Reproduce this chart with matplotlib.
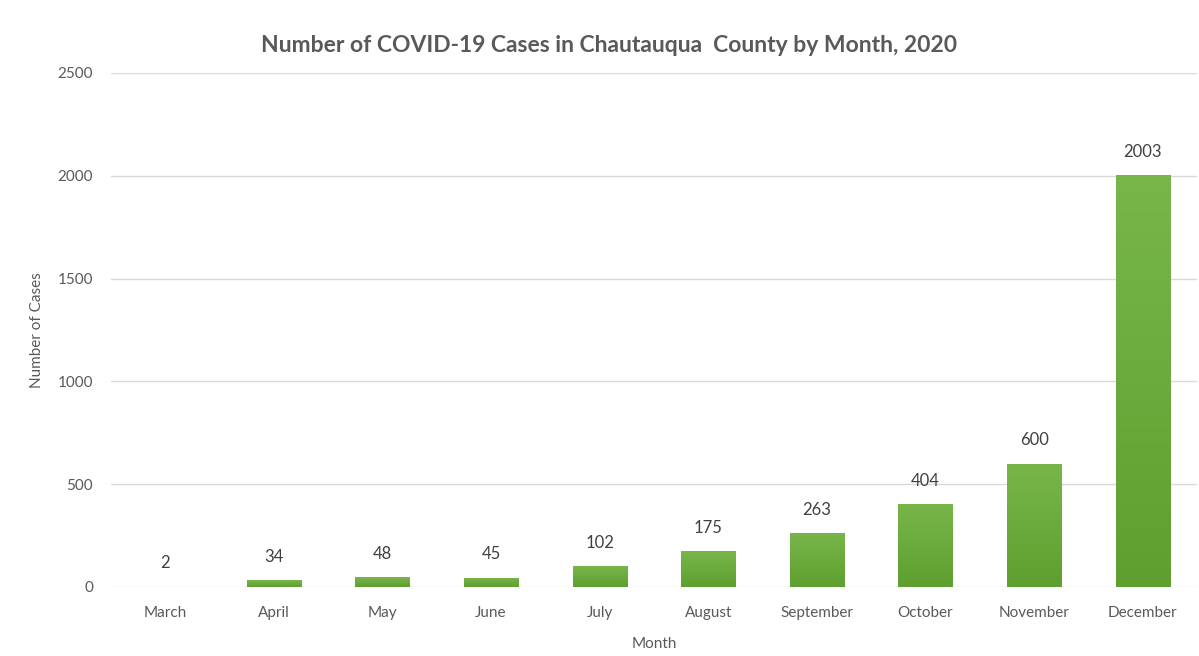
import numpy as np
import matplotlib.pyplot as plt
from matplotlib.colors import LinearSegmentedColormap

# monthly case counts, 2020
months = ["March", "April", "May", "June", "July", "August",
          "September", "October", "November", "December"]
cases = [2, 34, 48, 45, 102, 175, 263, 404, 600, 2003]
yticks = [0, 500, 1000, 1500, 2000, 2500]

plt.rcParams['font.family'] = ['Lato', 'DejaVu Sans']

fig = plt.figure(figsize=(11.99, 6.56), dpi=100)
ax = fig.add_axes([111 / 1199, 1 - 587 / 656, 1086 / 1199, 514 / 656])

x = np.arange(len(months))
bars = ax.bar(x, cases, width=0.5, color="#6aab3c", zorder=2)

# soft vertical gradient on each bar (lighter at the top)
grad = LinearSegmentedColormap.from_list("g", ["#5e9f2f", "#78b649"])
g = np.linspace(0, 1, 256).reshape(-1, 1)
for b in bars:
    x0, y0 = b.get_x(), b.get_y()
    im = ax.imshow(g, cmap=grad, aspect="auto", origin="lower",
                   extent=[x0, x0 + b.get_width(), y0, y0 + b.get_height()],
                   zorder=3)
    im.set_clip_path(b)

for xi, v in zip(x, cases):
    ax.annotate(str(v), (xi, v), xytext=(0, 11), textcoords="offset points",
                ha="center", va="bottom", fontsize=12, color="#404040")

ax.set_xlim(-0.5, len(months) - 0.5)
ax.set_ylim(0, 2500)
ax.set_yticks(yticks)
ax.set_xticks(x)
ax.set_xticklabels(months)
ax.tick_params(length=0, labelsize=11, colors="#595959", pad=14)
ax.tick_params(axis="y", pad=13)
ax.grid(axis="y", color="#d9d9d9", linewidth=1, zorder=0)
for s in ax.spines.values():
    s.set_visible(False)

ax.set_xlabel("Month", fontsize=11, color="#595959", labelpad=12)
ax.set_ylabel("Number of Cases", fontsize=11, color="#595959", labelpad=10)
fig.text(0.508, 1 - 45 / 656, "Number of COVID-19 Cases in Chautauqua  County by Month, 2020",
         ha="center", va="center", fontsize=16.5, fontweight="bold", color="#595959")

fig.savefig("out.png", dpi=100)
